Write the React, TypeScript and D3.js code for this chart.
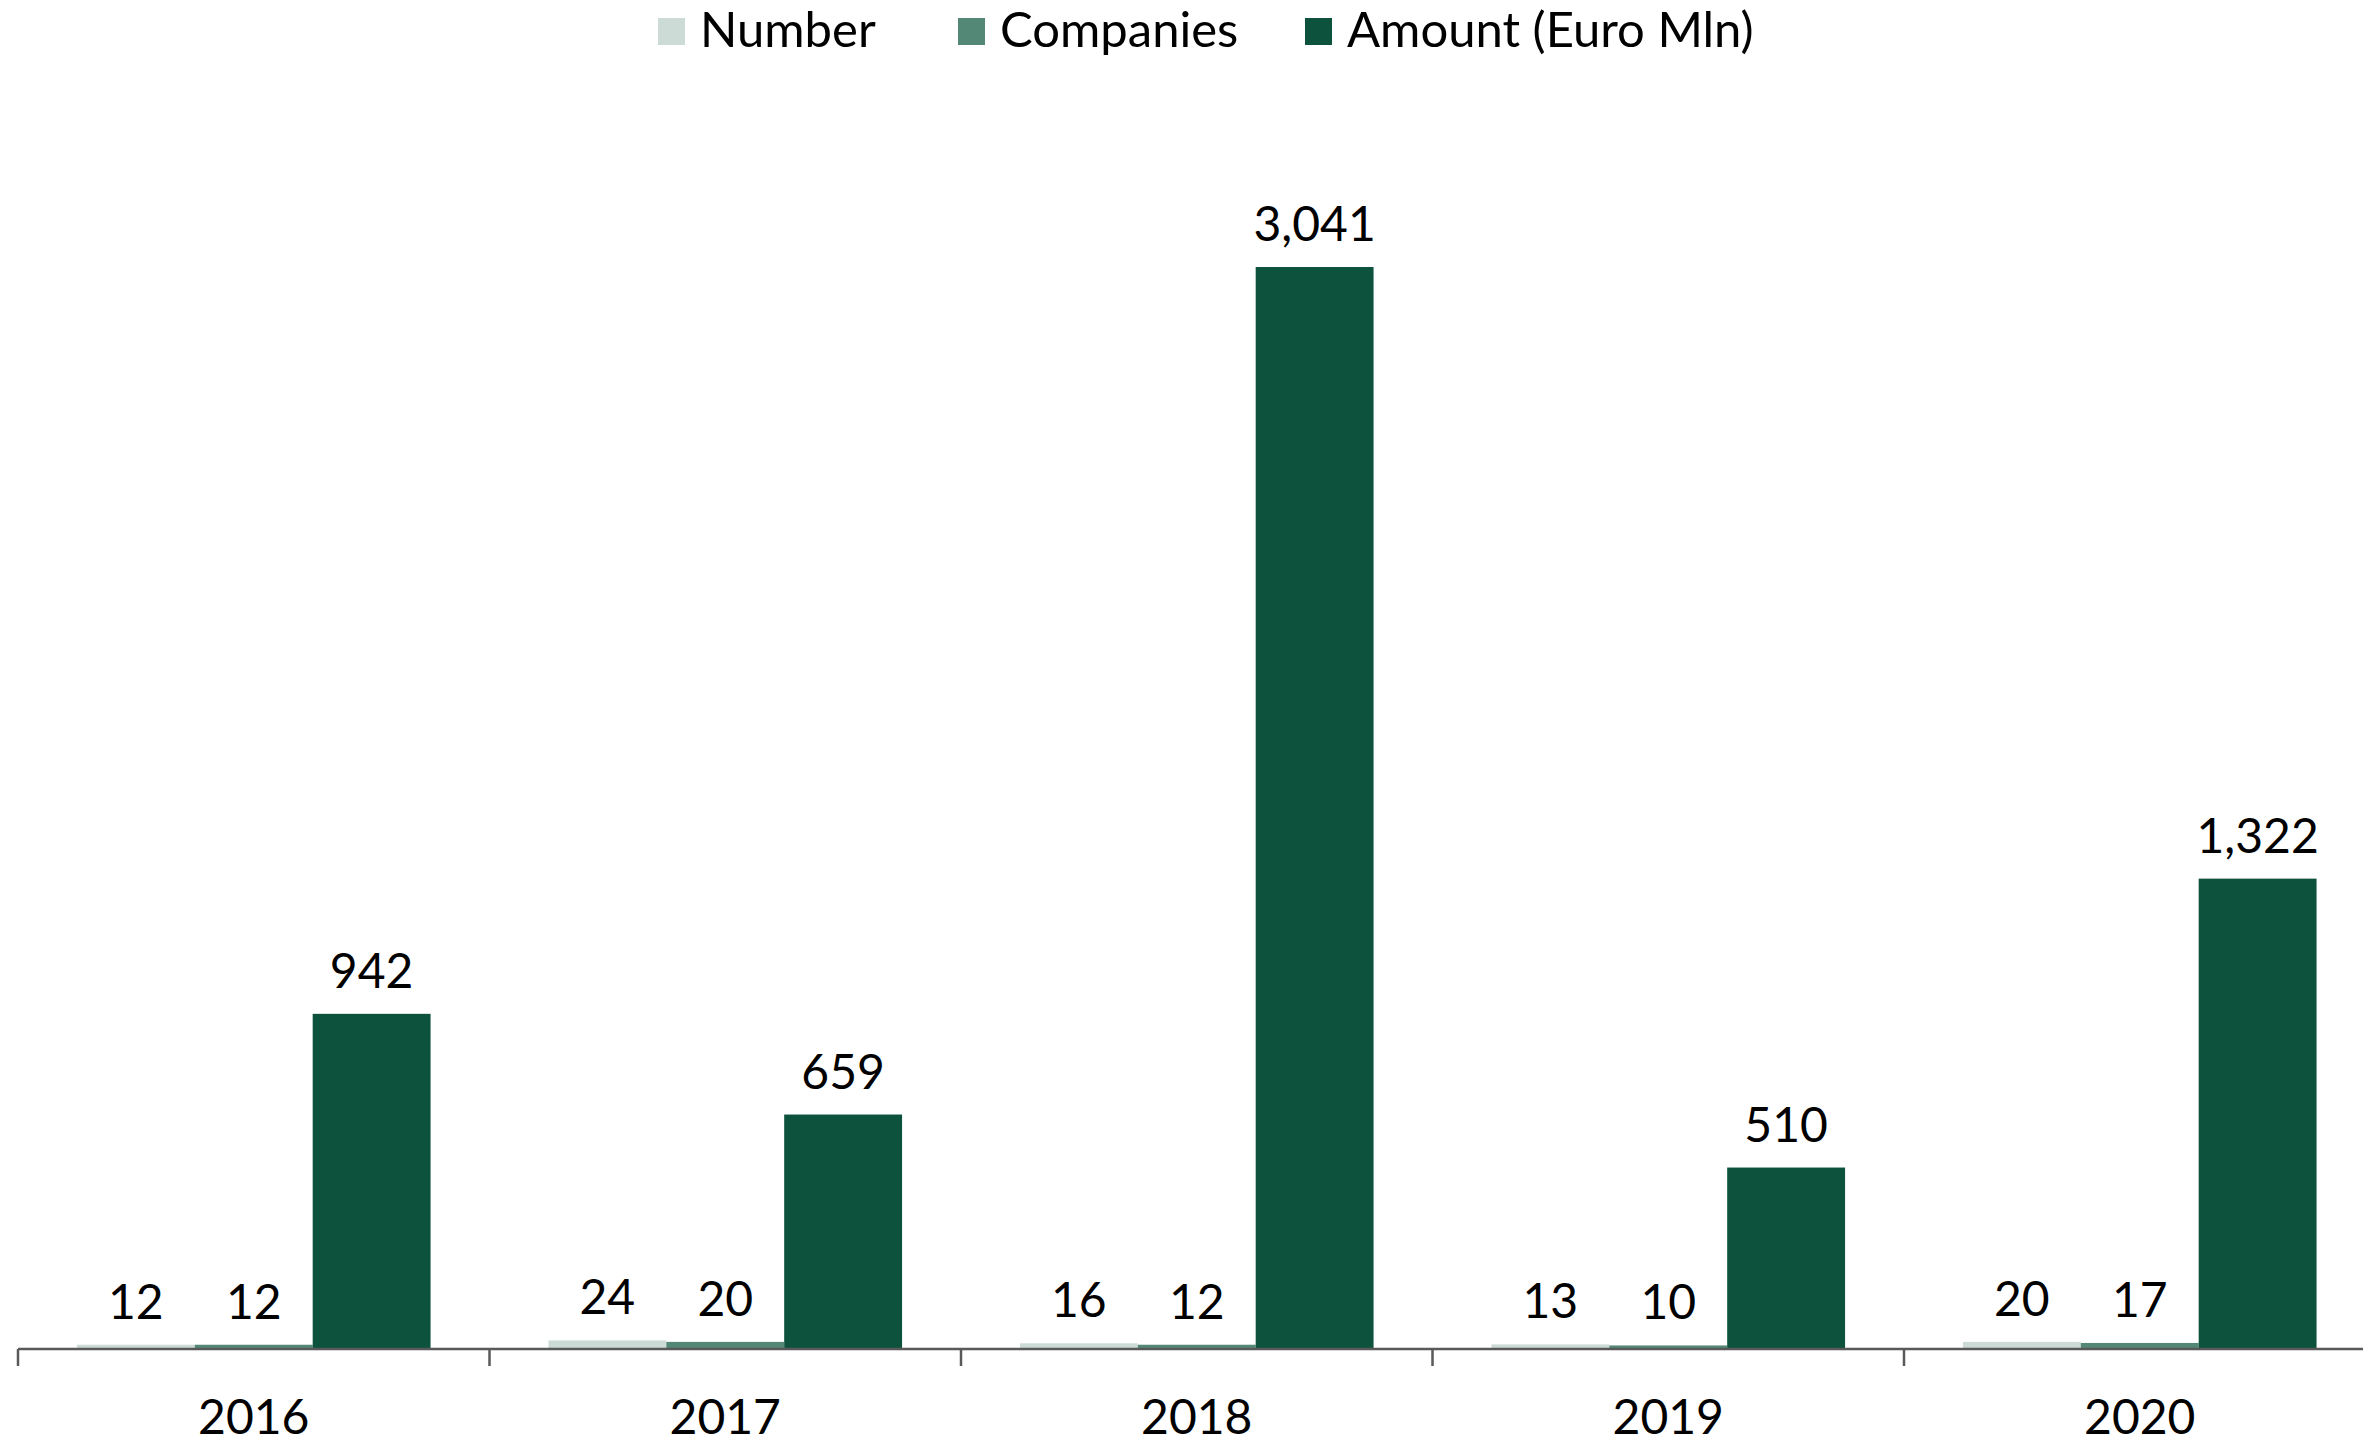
import { useEffect, useRef } from "react";
import * as d3 from "d3";

const years = ["2016", "2017", "2018", "2019", "2020"];
const seriesNames = ["Number", "Companies", "Amount (Euro Mln)"];
const numberVals = [12, 24, 16, 13, 20];
const companiesVals = [12, 20, 12, 10, 17];
const amountVals = [942, 659, 3041, 510, 1322];
const colors = ["#CCDBD5", "#538877", "#0C523D"];

export default function App() {
  const ref = useRef<SVGSVGElement>(null);

  useEffect(() => {
    const width = 2363;
    const height = 1449;
    const svg = d3.select(ref.current);
    svg.selectAll("*").remove();
    svg.style("font-family", "Lato, 'Open Sans', sans-serif");

    const baseY = 1349;
    const left = 18;
    const step = 471.5;

    const x0 = d3.scaleBand<string>().domain(years).range([left, left + step * years.length]).padding(0);
    const x1 = d3.scaleBand<string>().domain(seriesNames).range([0, x0.bandwidth()]).paddingInner(0).paddingOuter(0.5);
    const y = d3.scaleLinear().domain([0, 3500]).range([baseY, baseY - 3500 * 0.3558]);

    const rows = years.map((yr, i) => ({
      year: yr,
      vals: [numberVals[i], companiesVals[i], amountVals[i]],
    }));

    const g = svg.append("g");
    const groups = g.selectAll("g.grp").data(rows).join("g").attr("class", "grp")
      .attr("transform", d => `translate(${x0(d.year)},0)`);

    groups.selectAll("rect").data(d => d.vals.map((v, k) => ({ v, k })))
      .join("rect")
      .attr("x", d => x1(seriesNames[d.k])!)
      .attr("width", x1.bandwidth())
      .attr("y", d => y(d.v))
      .attr("height", d => baseY - y(d.v))
      .attr("fill", d => colors[d.k]);

    groups.selectAll("text").data(d => d.vals.map((v, k) => ({ v, k })))
      .join("text")
      .attr("x", d => x1(seriesNames[d.k])! + x1.bandwidth() / 2)
      .attr("y", d => y(d.v) - 26)
      .attr("text-anchor", "middle")
      .attr("font-size", 48)
      .attr("fill", "#000")
      .text(d => d3.format(",")(d.v));

    // axis
    const axisG = svg.append("g");
    axisG.append("line")
      .attr("x1", left).attr("x2", width)
      .attr("y1", baseY).attr("y2", baseY)
      .attr("stroke", "#595959").attr("stroke-width", 2.5);
    axisG.selectAll("line.tick").data(years).join("line").attr("class", "tick")
      .attr("x1", d => x0(d)!).attr("x2", d => x0(d)!)
      .attr("y1", baseY).attr("y2", baseY + 17)
      .attr("stroke", "#595959").attr("stroke-width", 2.5);
    axisG.selectAll("text").data(years).join("text")
      .attr("x", d => x0(d)! + x0.bandwidth() / 2)
      .attr("y", 1434)
      .attr("text-anchor", "middle")
      .attr("font-size", 48)
      .attr("fill", "#000")
      .text(d => d);

    // legend
    const legendX = [658, 958, 1305];
    const leg = svg.append("g");
    seriesNames.forEach((name, i) => {
      leg.append("rect")
        .attr("x", legendX[i]).attr("y", 18)
        .attr("width", 27).attr("height", 27)
        .attr("fill", colors[i]);
      leg.append("text")
        .attr("x", legendX[i] + 42).attr("y", 47)
        .attr("font-size", 49)
        .attr("fill", "#000")
        .text(name);
    });

    svg.attr("width", width).attr("height", height);
  }, []);

  return (
    <svg
      ref={ref}
      width={2363}
      height={1449}
      style={{ position: "absolute", left: 0, top: 0, background: "#fff" }}
    />
  );
}
